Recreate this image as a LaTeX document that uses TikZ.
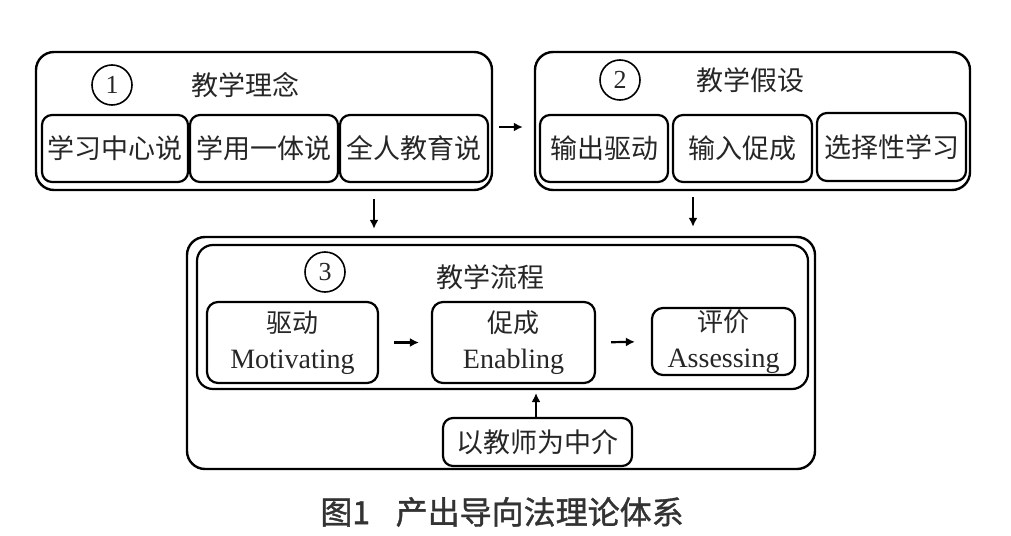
\documentclass[tikz,border=0pt]{standalone}
\usepackage{fontspec}
\setmainfont{Liberation Serif}
\newfontfamily\cjk{Noto Sans CJK SC}
\newfontfamily\capfont[FakeBold=1.2]{Noto Sans CJK SC}
\usepackage{tikz}
\usetikzlibrary{arrows,arrows.meta,positioning}
\definecolor{txtgray}{HTML}{262626}
\definecolor{capgray}{HTML}{333333}

\begin{document}
\begin{tikzpicture} [
    x = 1pt, y = -1pt,
    inner sep = 0,
    outerbox/.style = { draw, line width = 2.4pt, rounded corners = 18pt },
    subbox/.style = { draw, line width = 2.2pt, rounded corners = 10pt, text = txtgray,
                      font = \cjk\fontsize{27}{32}\selectfont },
    procbox/.style = { draw, line width = 2.2pt, rounded corners = 11pt, text = txtgray,
                       align = center, font = \fontsize{28}{36}\selectfont },
    numcircle/.style = { draw, circle, line width = 1.6pt, minimum size = 40pt,
                         text = txtgray, font = \fontsize{26}{26}\selectfont },
    title/.style = { text = txtgray, font = \cjk\fontsize{27}{32}\selectfont },
    arr/.style = { -{Latex[length = 9pt, width = 9pt]}, line width = 2.2pt }
    ]
    \useasboundingbox (0,0) rectangle (1011,535);

    % 1 teaching principles
    \node [outerbox, minimum width = 456, minimum height = 138] (lilun) at (264,121) {};
    \node [numcircle] (c1) at (112,85) {1};
    \node [title] (t1) at (245,85) {教学理念};
    \node [subbox, minimum width = 146, minimum height = 67] (xxzx) at (115,148.5) {学习中心说};
    \node [subbox, minimum width = 148, minimum height = 67] (xyyt) at (264,148.5) {学用一体说};
    \node [subbox, minimum width = 148, minimum height = 67] (qrjy) at (414,148.5) {全人教育说};

    % 2 teaching hypotheses
    \node [outerbox, minimum width = 435, minimum height = 138] (jiashe) at (752.5,121) {};
    \node [numcircle] (c2) at (620,80) {2};
    \node [title] (t2) at (750,80) {教学假设};
    \node [subbox, minimum width = 128, minimum height = 67] (scqd) at (604,148.5) {输出驱动};
    \node [subbox, minimum width = 139, minimum height = 67] (srcc) at (742.5,148.5) {输入促成};
    \node [subbox, minimum width = 149, minimum height = 68] (xzxx) at (891.5,147) {选择性学习};

    % 3 teaching process
    \node [outerbox, minimum width = 628, minimum height = 232] (liucheng) at (501,353) {};
    \node [outerbox, line width = 2.2pt, rounded corners = 16pt, minimum width = 611, minimum height = 144] (inner) at (502.5,317) {};
    \node [numcircle] (c3) at (325,272) {3};
    \node [title] (t3) at (490,277) {教学流程};
    \node [procbox, minimum width = 171, minimum height = 81] (mot) at (292.5,342.5) {{\cjk\fontsize{26}{26}\selectfont 驱动}\\Motivating};
    \node [procbox, minimum width = 163, minimum height = 81] (ena) at (513.5,342.5) {{\cjk\fontsize{26}{26}\selectfont 促成}\\Enabling};
    \node [procbox, minimum width = 143, minimum height = 67] (ass) at (723.5,341.5) {{\cjk\fontsize{26}{26}\selectfont 评价}\\Assessing};
    \node [subbox, minimum width = 189, minimum height = 48] (zhongjie) at (537.5,442) {以教师为中介};

    \coordinate (d1) at (374,0);
    \coordinate (d2) at (693,0);
    \coordinate (d3) at (536,0);

    \draw [arr, shorten <= 6pt, shorten >= 11pt] ([yshift=-6pt]lilun.east) -- ([yshift=-6pt]jiashe.west);
    \draw [arr, shorten <= 8pt, shorten >= 7pt] (lilun.south -| d1) -- (liucheng.north -| d1);
    \draw [arr, shorten <= 6pt, shorten >= 9pt] (jiashe.south -| d2) -- (liucheng.north -| d2);
    \draw [arr, shorten <= 15pt, shorten >= 12pt] (mot.east) -- (ena.west);
    \draw [arr, shorten <= 15pt, shorten >= 16pt] (ena.east) -- (ass.west);
    \draw [arr, line width = 1.6pt, shorten >= 3pt] (zhongjie.north -| d3) -- (inner.south -| d3);

    \node [text = capgray, font = \capfont\fontsize{32}{34}\selectfont] (caption) at (502,512) {图1\hspace{0.8em}产出导向法理论体系};
\end{tikzpicture}
\end{document}
